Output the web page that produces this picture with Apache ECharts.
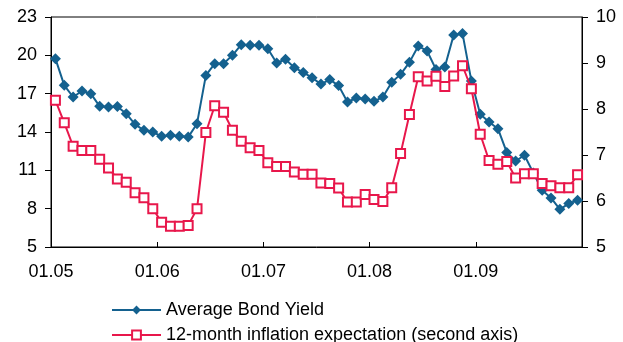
<!DOCTYPE html>
<html>
<head>
<meta charset="utf-8">
<script src="https://cdn.jsdelivr.net/npm/echarts@6/dist/echarts.min.js"></script>
<style>
  html, body { margin: 0; padding: 0; background: #fff; }
  #chart { width: 623px; height: 342px; }
</style>
</head>
<body>
<div id="chart"></div>
<script>
// Monthly observations, January 2005 to December 2009
const bondYield = [
  19.74, 17.65, 16.74, 17.21, 17.0, 16.01, 15.96, 16.0, 15.43, 14.6,
  14.13, 14.0, 13.66, 13.74, 13.66, 13.6, 14.65, 18.43, 19.35, 19.35,
  20.0, 20.83, 20.78, 20.78, 20.52, 19.4, 19.69, 19.03, 18.66, 18.25,
  17.75, 18.1, 17.63, 16.35, 16.66, 16.58, 16.4, 16.74, 17.89, 18.51,
  19.45, 20.73, 20.34, 18.9, 19.09, 21.59, 21.7, 18.0, 15.38, 14.78,
  14.26, 12.4, 11.73, 12.18, 10.8, 9.44, 8.84, 7.95, 8.4, 8.65
];
const inflationExpectation = [
  8.19, 7.70, 7.19, 7.10, 7.10, 6.91, 6.72, 6.48, 6.41, 6.18,
  6.07, 5.83, 5.54, 5.45, 5.45, 5.47, 5.83, 7.49, 8.07, 7.93,
  7.54, 7.30, 7.16, 7.10, 6.83, 6.75, 6.75, 6.63, 6.58, 6.58,
  6.39, 6.38, 6.28, 5.98, 5.98, 6.14, 6.03, 5.99, 6.29, 7.03,
  7.88, 8.70, 8.61, 8.71, 8.49, 8.72, 8.94, 8.44, 7.45, 6.88,
  6.80, 6.86, 6.50, 6.59, 6.59, 6.38, 6.33, 6.29, 6.29, 6.57
];
const yearTickLabels = ['01.05', '01.06', '01.07', '01.08', '01.09'];
const seriesNames = ['Average Bond Yield', '12-month inflation expectation (second axis)'];

const BLUE = '#14618f';
const RED = '#e8174b';
const FONT = "'Liberation Sans', Arial, sans-serif";

// each month is plotted at its middle on a month-index axis
const toPoints = arr => arr.map((v, i) => [i + 0.5, v]);

// one legend block per series, stacked under the plot
const legendRow = (name, top) => ({
  orient: 'horizontal',
  left: 111, top: top,
  padding: 0,
  itemWidth: 49, itemHeight: 11,
  textStyle: { fontSize: 18, color: '#000', fontFamily: FONT },
  data: [name]
});

const chart = echarts.init(document.getElementById('chart'), null, { renderer: 'canvas' });

chart.setOption({
  animation: false,
  textStyle: { fontFamily: FONT, color: '#000' },
  grid: {
    left: 51, right: 41, top: 17, height: 230,
    show: true, borderColor: '#000', borderWidth: 1, backgroundColor: 'transparent'
  },
  legend: [legendRow(seriesNames[0], 301), legendRow(seriesNames[1], 326)],
  xAxis: {
    type: 'value',
    min: 0, max: yearTickLabels.length * 12, interval: 12,
    axisLine: { show: true, lineStyle: { color: '#000', width: 1 } },
    axisTick: { show: true, inside: true, length: 5, lineStyle: { color: '#000' } },
    splitLine: { show: false },
    axisLabel: {
      fontSize: 18, color: '#000', fontFamily: FONT, margin: 16,
      showMaxLabel: false,
      formatter: v => yearTickLabels[Math.round(v / 12)] || ''
    }
  },
  yAxis: [
    {
      type: 'value', min: 5, max: 23, interval: 3,
      axisLine: { show: true, lineStyle: { color: '#000', width: 1 } },
      axisTick: { show: true, length: 6, lineStyle: { color: '#000' } },
      splitLine: { show: false },
      axisLabel: { fontSize: 18, color: '#000', fontFamily: FONT, margin: 14 }
    },
    {
      type: 'value', min: 5, max: 10, interval: 1, position: 'right',
      axisLine: { show: true, lineStyle: { color: '#000', width: 1 } },
      axisTick: { show: true, length: 6, lineStyle: { color: '#000' } },
      splitLine: { show: false },
      axisLabel: { fontSize: 18, color: '#000', fontFamily: FONT, margin: 14 }
    }
  ],
  series: [
    {
      name: seriesNames[0],
      type: 'line',
      yAxisIndex: 0,
      data: toPoints(bondYield),
      symbol: 'diamond',
      symbolSize: 11,
      lineStyle: { color: BLUE, width: 2 },
      itemStyle: { color: BLUE },
      z: 2
    },
    {
      name: seriesNames[1],
      type: 'line',
      yAxisIndex: 1,
      data: toPoints(inflationExpectation),
      symbol: 'rect',
      symbolSize: 9,
      lineStyle: { color: RED, width: 2 },
      itemStyle: { color: '#fff', borderColor: RED, borderWidth: 2 },
      z: 3
    }
  ]
});
</script>
</body>
</html>
